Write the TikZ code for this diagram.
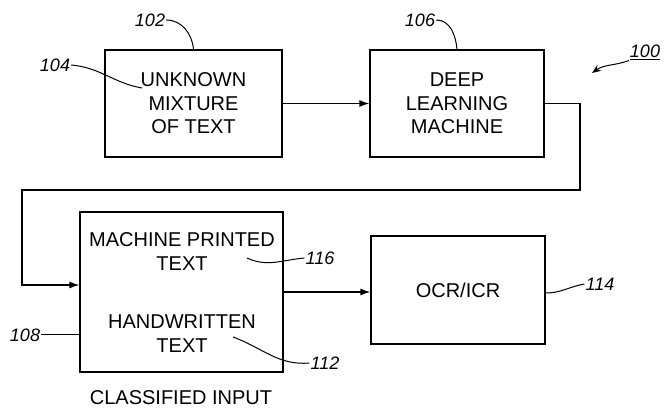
\documentclass[tikz,border=0pt]{standalone}
\usepackage{fontspec}
\setmainfont{Liberation Sans}
\usetikzlibrary{arrows.meta, positioning}

\begin{document}
\begin{tikzpicture}[
    x=1pt, y=-1pt,
    txt/.style={align=center, font=\fontsize{20}{23.5}\selectfont},
    box/.style={draw, rectangle, line width=1.2pt, txt},
    arrow/.style={-{Latex[length=10pt, width=7pt]}, line width=1.2pt},
    leader/.style={line width=1pt},
    refnum/.style={font=\fontsize{18}{20}\selectfont\itshape, inner sep=1pt}
]
\useasboundingbox (0,0) rectangle (665,414);

% blocs du haut
\node[box, minimum width=177pt, minimum height=107pt] (unknown) at (193.5,103.5) {UNKNOWN\\MIXTURE\\OF TEXT};
\node[box, minimum width=174pt, minimum height=107pt] (dlm) at (457,103.5) {DEEP\\LEARNING\\MACHINE};

% blocs du bas
\node[box, minimum width=203pt, minimum height=160pt] (classified) at (181.5,292) {};
\node[txt] (printed) at (182,251.5) {MACHINE PRINTED\\TEXT};
\node[txt] (handwritten) at (182,333.5) {HANDWRITTEN\\TEXT};
\node[txt] (caption) at (181,398) {CLASSIFIED INPUT};
\node[box, minimum width=174pt, minimum height=108pt] (ocr) at (458,290) {OCR/ICR};

% fleches
\coordinate (loopR) at (580,190);
\coordinate (loopL) at (22,190);
\draw[arrow] (unknown) -- (dlm);
\draw[arrow] (dlm.east) -| (loopR) -- (loopL) |- ([yshift=7pt]classified.west);
\draw[arrow] (classified.east) -- (classified.east -| ocr.west);

% numeros de reference
\node[refnum] (n102) at (150,20) {102};
\node[refnum] (n104) at (55,65) {104};
\node[refnum] (n106) at (420,20) {106};
\node[refnum] (n100) at (645,52) {\underline{100}};
\node[refnum] (n108) at (25,335) {108};
\node[refnum] (n116) at (320,258) {116};
\node[refnum] (n112) at (325,363) {112};
\node[refnum] (n114) at (600,284) {114};

\coordinate (c104) at (142,88);
\coordinate (c116) at (247,258);
\coordinate (c112) at (233,337);
\coordinate (c100) at (592,73);

\draw[leader] (n102.east) to[out=0, in=95] (unknown.north);
\draw[leader] (n106.east) to[out=0, in=95] (dlm.north);
\draw[leader] (n104.east) to[out=-5, in=170] (c104);
\draw[leader] (n108.east) -- (n108.east -| classified.west);
\draw[leader] (c116) to[out=-25, in=185] (n116.west);
\draw[leader] (c112) to[out=-20, in=185] (n112.west);
\draw[leader] ([yshift=-3pt]ocr.east) to[out=0, in=190] (n114.west);
\draw[leader, -{Stealth[length=9pt, width=7pt]}] (n100.south west) to[out=200, in=35] (c100);

\end{tikzpicture}
\end{document}
